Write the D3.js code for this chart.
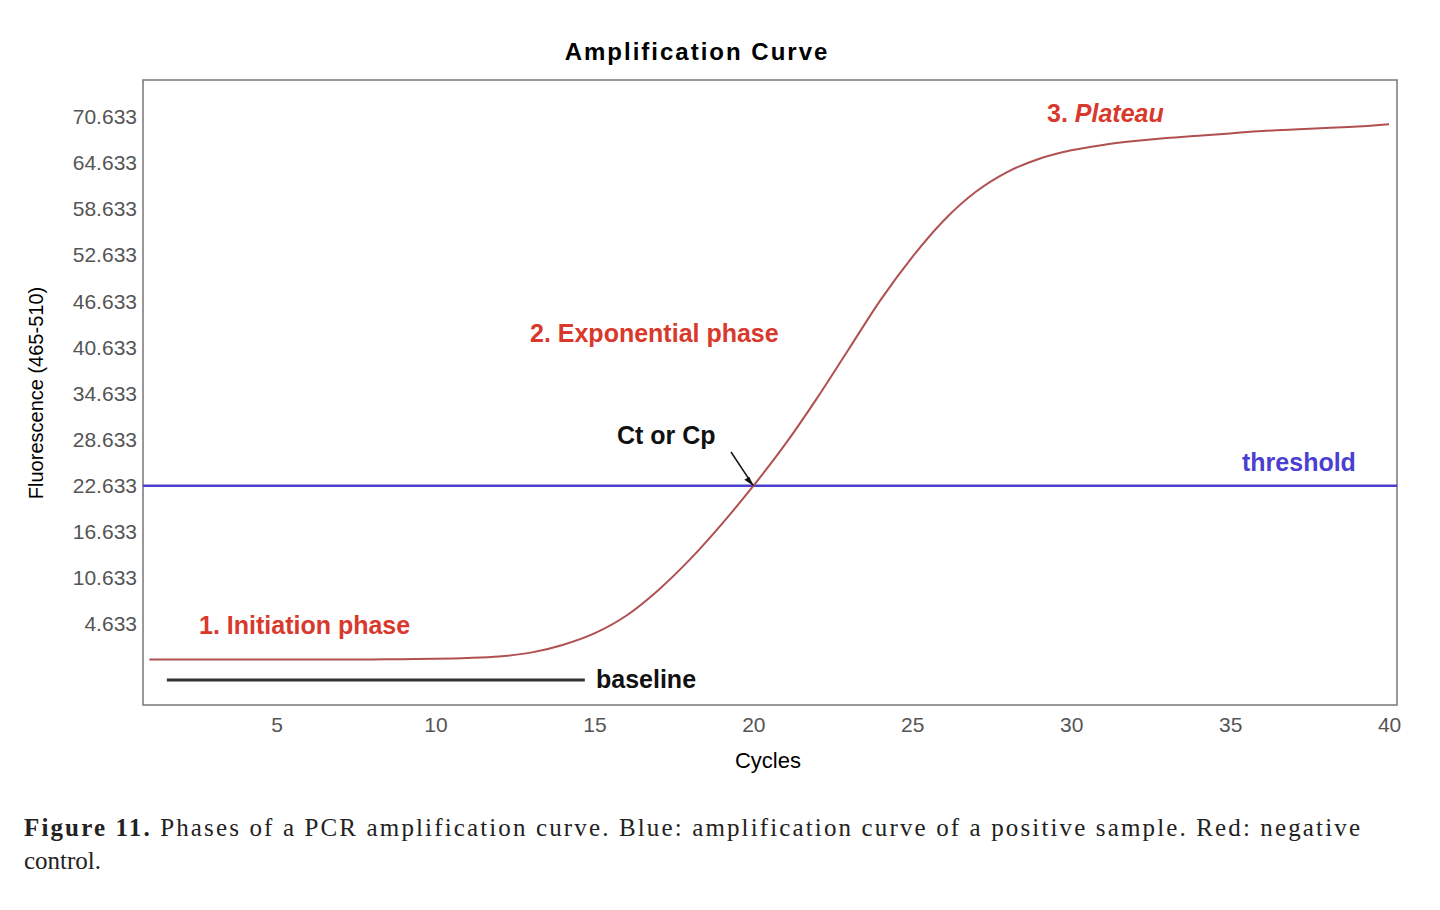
<!DOCTYPE html>
<html><head><meta charset="utf-8">
<script src="https://cdn.jsdelivr.net/npm/d3@7"></script>
<style>body{margin:0;background:#fff}</style>
</head><body>
<svg id="c" width="1440" height="910"></svg>
<script>
var cycles = [1,2,3,4,5,6,7,8,9,10,11,12,13,14,15,16,17,18,19,20,21,22,23,24,25,26,27,28,29,30,31,32,33,34,35,36,37,38,39,40];
var fluor = [0,0,0,0,0,0,0,0.02,0.05,0.1,0.2,0.4,0.9,1.9,3.4,5.7,9,13,17.6,22.6,28,34,40.4,46.8,52.4,57.2,60.9,63.5,65.2,66.3,67,67.5,67.9,68.2,68.5,68.8,69,69.2,69.4,69.7];
var yTicks = [4.633,10.633,16.633,22.633,28.633,34.633,40.633,46.633,52.633,58.633,64.633,70.633];
var xTicks = [5,10,15,20,25,30,35,40];
var threshold = 22.633, baselineLevel = -2.66, baselineRange = [1.55, 14.7];

var svg = d3.select("#c"), L = 143, R = 1397, T = 80, B = 705;
var x = d3.scaleLinear().domain([0.8, 40.25]).range([L, R]);
var y = d3.scaleLinear().domain([-5.92, 75.45]).range([B, T]);
var sans = "Liberation Sans, Arial, sans-serif";

svg.append("rect").attr("x",L).attr("y",T).attr("width",R-L).attr("height",B-T)
  .attr("fill","none").attr("stroke","#777").attr("stroke-width",1.5);

var ya = svg.append("g").attr("transform","translate("+L+",0)")
  .call(d3.axisLeft(y).tickValues(yTicks).tickFormat(d3.format(".3f")).tickSize(0).tickPadding(6));
ya.select(".domain").remove();
ya.selectAll("text").attr("font-family",sans).attr("font-size",21).attr("fill","#555");

var xa = svg.append("g").attr("transform","translate(0,"+B+")")
  .call(d3.axisBottom(x).tickValues(xTicks).tickSize(0).tickPadding(12));
xa.select(".domain").remove();
xa.selectAll("text").attr("font-family",sans).attr("font-size",21).attr("fill","#555");

svg.append("text").attr("x",697).attr("y",60).attr("text-anchor","middle")
  .attr("font-family",sans).attr("font-weight","bold").attr("font-size",24).attr("letter-spacing",2).text("Amplification Curve");
svg.append("text").attr("x",768).attr("y",768).attr("text-anchor","middle")
  .attr("font-family",sans).attr("font-size",22).text("Cycles");
svg.append("text").attr("transform","translate(43,393) rotate(-90)").attr("text-anchor","middle")
  .attr("font-family",sans).attr("font-size",20).text("Fluorescence (465-510)");

// baseline and threshold
svg.append("line").attr("x1",x(baselineRange[0])).attr("x2",x(baselineRange[1]))
  .attr("y1",y(baselineLevel)).attr("y2",y(baselineLevel)).attr("stroke","#333").attr("stroke-width",3);
svg.append("line").attr("x1",L).attr("x2",R).attr("y1",y(threshold)).attr("y2",y(threshold))
  .attr("stroke","#4a3fd0").attr("stroke-width",2.5);

var line = d3.line().x(function(d,i){return x(cycles[i]);}).y(function(d){return y(d);}).curve(d3.curveMonotoneX);
svg.append("path").datum(fluor).attr("d",line).attr("fill","none").attr("stroke","#b05050").attr("stroke-width",2);

var red = "#d8392c";
function lab(tx,ty,s,c){return svg.append("text").attr("x",tx).attr("y",ty).attr("font-family",sans)
  .attr("font-weight","bold").attr("font-size",25).attr("fill",c).text(s);}
lab(199,634,"1. Initiation phase",red);
lab(530,342,"2. Exponential phase",red);
var p = lab(1047,122,"3. ",red); p.append("tspan").attr("font-style","italic").text("Plateau");
lab(1242,471,"threshold","#4a3fd0");
lab(617,444,"Ct or Cp","#111");
lab(596,688,"baseline","#111");

// arrow to Ct
var ax = x(20), ay = y(threshold);
svg.append("line").attr("x1",731).attr("y1",452).attr("x2",ax).attr("y2",ay).attr("stroke","#111").attr("stroke-width",1.5);
svg.append("path").attr("d","M"+ax+","+ay+" l-9,-6 l5,-3 z").attr("fill","#111");

var serif = "Liberation Serif, Times New Roman, serif";
var cap = svg.append("text").attr("x",24).attr("y",836).attr("font-family",serif).attr("font-size",25).attr("fill","#222")
  .attr("textLength",1336).attr("lengthAdjust","spacing");
cap.append("tspan").attr("font-weight","bold").text("Figure 11.");
cap.append("tspan").text(" Phases of a PCR amplification curve. Blue: amplification curve of a positive sample. Red: negative");
svg.append("text").attr("x",24).attr("y",869).attr("font-family",serif).attr("font-size",25).attr("fill","#222").text("control.");
</script>
</body></html>
